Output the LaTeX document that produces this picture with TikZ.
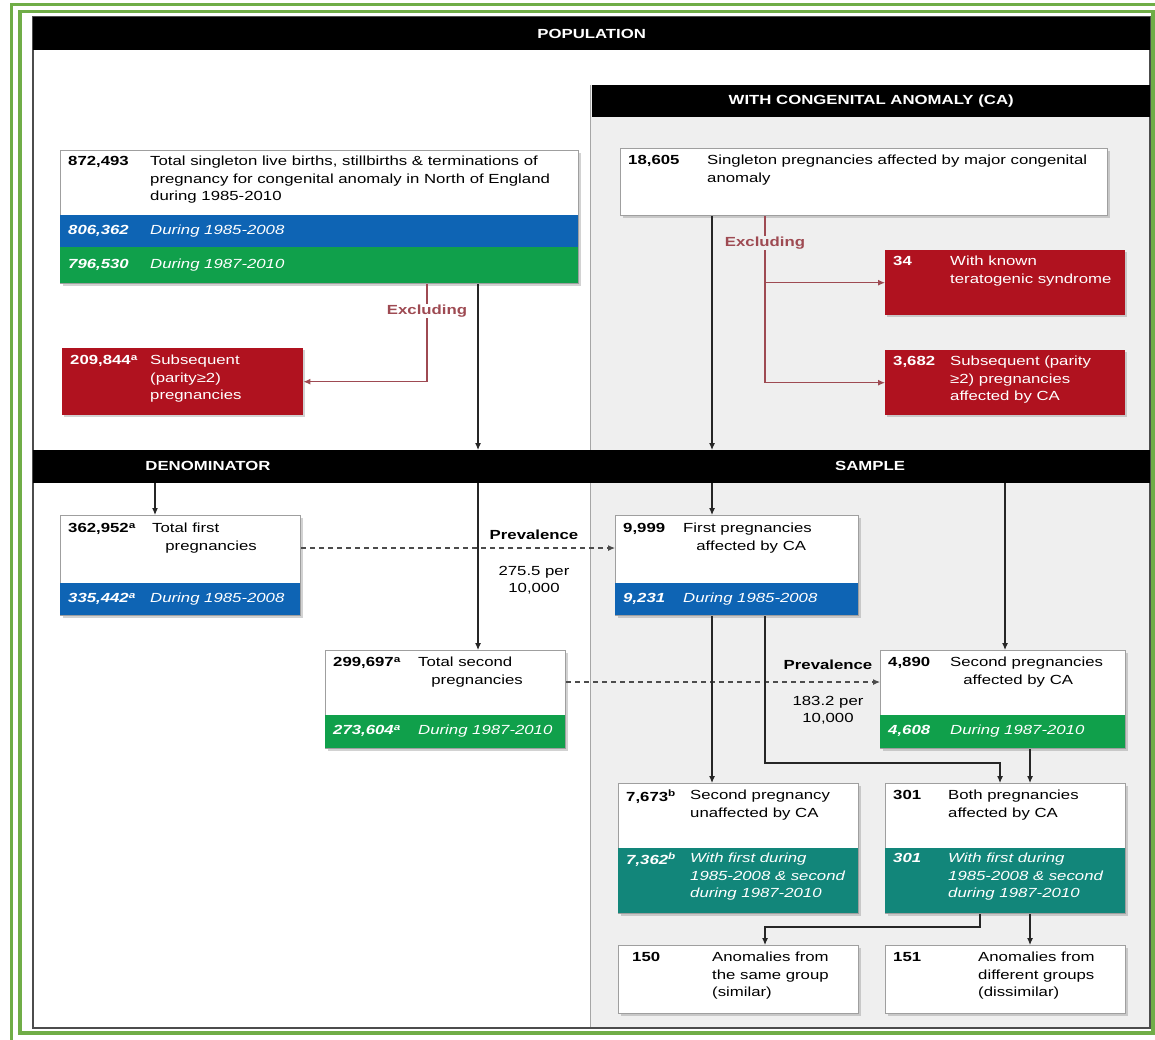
\documentclass[tikz,border=0pt]{standalone}
\usepackage{fontspec}
\setmainfont{Liberation Sans}[FakeStretch=1.27]
\usepackage{tikz}
\usetikzlibrary{shadows, arrows.meta}

\definecolor{popblue}{HTML}{0E64B4}
\definecolor{popgreen}{HTML}{10A04B}
\definecolor{exred}{HTML}{B0121F}
\definecolor{exline}{HTML}{9E4A52}
\definecolor{teal2}{HTML}{12867A}
\definecolor{panel}{HTML}{EFEFEF}
\definecolor{framegreen}{HTML}{70AD47}

\begin{document}
\fontsize{13.2}{17.5}\selectfont
\begin{tikzpicture}[x=1pt, y=-1pt,
    arr/.style={-{Latex[length=7pt, width=6pt]}, line width=1.1pt, black!85},
    dasharr/.style={arr, dashed, dash pattern=on 5pt off 4pt, black!70},
    exarr/.style={-{Latex[length=7pt, width=6pt]}, line width=1.1pt, exline}
  ]
  \tikzset{
    bar/.style={fill=black, text=white, font=\bfseries, inner sep=0pt, anchor=north west},
    bartext/.style={text=white, font=\bfseries, inner sep=0pt},
    box/.style={draw=gray!75, line width=1pt, fill=white, inner sep=0pt, anchor=north west,
      drop shadow={shadow xshift=2pt, shadow yshift=-2pt, opacity=.35}},
    exbox/.style={fill=exred, inner sep=0pt, anchor=north west,
      drop shadow={shadow xshift=2pt, shadow yshift=-2pt, opacity=.35}},
    strip/.style={inner sep=0pt, anchor=north west},
    num/.style={anchor=north west, inner sep=0pt, font=\bfseries},
    txt/.style={anchor=north west, inner sep=0pt, align=left},
    snum/.style={anchor=west, inner sep=0pt, text=white, font=\bfseries\itshape},
    stxt/.style={anchor=west, inner sep=0pt, text=white, font=\itshape},
    mnum/.style={num, text=white, font=\bfseries\itshape},
    mtxt/.style={txt, text=white, font=\itshape},
    wnum/.style={num, text=white},
    wtxt/.style={txt, text=white},
    exlab/.style={text=exline, font=\bfseries, inner sep=1pt},
    prev/.style={font=\bfseries, inner sep=0pt},
    rate/.style={align=center, inner sep=0pt}
  }
  \useasboundingbox (0,0) rectangle (1155,1039);
  \fill[white] (0,0) rectangle (1155,1039);

  % frames and panels
  \draw[framegreen, line width=3.5pt] (11.5,4.5) rectangle (1170,1050);
  \draw[framegreen, line width=3.5pt] (20,11.5) rectangle (1153,1033);
  \fill[panel] (590,85) rectangle (1150,1028);
  \draw[gray!70, line width=1pt] (590,85) -- (590,1028);
  \draw[gray!60!black, line width=1.5pt] (33,17) rectangle (1150,1028);

  % bars
  \node[bar, minimum width=1117pt, minimum height=33pt] (popbar) at (33,17) {POPULATION};
  \node[bar, minimum width=558pt, minimum height=32pt] (cabar) at (592,85) {WITH CONGENITAL ANOMALY (CA)};
  \node[bar, minimum width=1117pt, minimum height=33pt] (denbar) at (33,450) {};
  \node[bartext] (denlab) at (208,466) {DENOMINATOR};
  \node[bartext] (samlab) at (870,466) {SAMPLE};

  % population
  \node[box, minimum width=518pt, minimum height=133pt] (tot) at (60,150) {};
  \node[strip, fill=popblue, minimum width=518pt, minimum height=32pt] (totb) at (60,215) {};
  \node[strip, fill=popgreen, minimum width=518pt, minimum height=36pt] (totg) at (60,247) {};
  \node[num] (totn) at (68,156) {872,493};
  \node[txt] (tott) at (150,156) {Total singleton live births, stillbirths \& terminations of\\pregnancy for congenital anomaly in North of England\\during 1985-2010};
  \node[snum] (totbn) at (68,231) {806,362};
  \node[stxt] (totbt) at (150,231) {During 1985-2008};
  \node[snum] (totgn) at (68,265) {796,530};
  \node[stxt] (totgt) at (150,265) {During 1987-2010};

  \node[box, minimum width=487pt, minimum height=67pt] (ca) at (620,148) {};
  \node[num] (can) at (628,155) {18,605};
  \node[txt] (cat) at (707,155) {Singleton pregnancies affected by major congenital\\anomaly};

  % excluded
  \node[exbox, minimum width=241pt, minimum height=67pt] (ex3) at (62,348) {};
  \node[wnum] (ex3n) at (70,355) {209,844\textsuperscript{a}};
  \node[wtxt] (ex3t) at (150,355) {Subsequent\\(parity≥2)\\pregnancies};
  \node[exbox, minimum width=240pt, minimum height=65pt] (ex1) at (885,250) {};
  \node[wnum] (ex1n) at (893,256) {34};
  \node[wtxt] (ex1t) at (950,256) {With known\\teratogenic syndrome};
  \node[exbox, minimum width=240pt, minimum height=65pt] (ex2) at (885,350) {};
  \node[wnum] (ex2n) at (893,356) {3,682};
  \node[wtxt] (ex2t) at (950,356) {Subsequent (parity\\≥2) pregnancies\\affected by CA};

  % denominator
  \node[box, minimum width=240pt, minimum height=100pt] (d1) at (60,515) {};
  \node[strip, fill=popblue, minimum width=240pt, minimum height=32pt] (d1b) at (60,583) {};
  \node[num] (d1n) at (68,523) {362,952\textsuperscript{a}};
  \node[txt] (d1t) at (152,523) {Total first\\\hspace*{1em}pregnancies};
  \node[snum] (d1bn) at (68,599) {335,442\textsuperscript{a}};
  \node[stxt] (d1bt) at (150,599) {During 1985-2008};

  \node[box, minimum width=240pt, minimum height=98pt] (d2) at (325,650) {};
  \node[strip, fill=popgreen, minimum width=240pt, minimum height=33pt] (d2g) at (325,715) {};
  \node[num] (d2n) at (333,657) {299,697\textsuperscript{a}};
  \node[txt] (d2t) at (418,657) {Total second\\\hspace*{1em}pregnancies};
  \node[snum] (d2gn) at (333,731) {273,604\textsuperscript{a}};
  \node[stxt] (d2gt) at (418,731) {During 1987-2010};

  % sample
  \node[box, minimum width=243pt, minimum height=100pt] (s1) at (615,515) {};
  \node[strip, fill=popblue, minimum width=243pt, minimum height=32pt] (s1b) at (615,583) {};
  \node[num] (s1n) at (623,523) {9,999};
  \node[txt] (s1t) at (683,523) {First pregnancies\\\hspace*{1em}affected by CA};
  \node[snum] (s1bn) at (623,599) {9,231};
  \node[stxt] (s1bt) at (683,599) {During 1985-2008};

  \node[box, minimum width=245pt, minimum height=98pt] (s2) at (880,650) {};
  \node[strip, fill=popgreen, minimum width=245pt, minimum height=33pt] (s2g) at (880,715) {};
  \node[num] (s2n) at (888,657) {4,890};
  \node[txt] (s2t) at (950,657) {Second pregnancies\\\hspace*{1em}affected by CA};
  \node[snum] (s2gn) at (888,731) {4,608};
  \node[stxt] (s2gt) at (950,731) {During 1987-2010};

  \node[box, minimum width=240pt, minimum height=130pt] (s3) at (618,783) {};
  \node[strip, fill=teal2, minimum width=240pt, minimum height=65pt] (s3t2) at (618,848) {};
  \node[num] (s3n) at (626,790) {7,673\textsuperscript{b}};
  \node[txt] (s3t) at (690,790) {Second pregnancy\\unaffected by CA};
  \node[mnum] (s3mn) at (626,853) {7,362\textsuperscript{b}};
  \node[mtxt] (s3mt) at (690,853) {With first during\\1985-2008 \& second\\during 1987-2010};

  \node[box, minimum width=240pt, minimum height=130pt] (s4) at (885,783) {};
  \node[strip, fill=teal2, minimum width=240pt, minimum height=65pt] (s4t2) at (885,848) {};
  \node[num] (s4n) at (893,790) {301};
  \node[txt] (s4t) at (948,790) {Both pregnancies\\affected by CA};
  \node[mnum] (s4mn) at (893,853) {301};
  \node[mtxt] (s4mt) at (948,853) {With first during\\1985-2008 \& second\\during 1987-2010};

  \node[box, minimum width=240pt, minimum height=68pt] (s5) at (618,945) {};
  \node[num] (s5n) at (632,952) {150};
  \node[txt] (s5t) at (712,952) {Anomalies from\\the same group\\(similar)};
  \node[box, minimum width=240pt, minimum height=68pt] (s6) at (885,945) {};
  \node[num] (s6n) at (893,952) {151};
  \node[txt] (s6t) at (978,952) {Anomalies from\\different groups\\(dissimilar)};

  % connector columns and rows
  \coordinate (xa) at (478,0);
  \coordinate (xb) at (712,0);
  \coordinate (xc) at (765,0);
  \coordinate (xd) at (1005,0);
  \coordinate (xe) at (1030,0);
  \coordinate (xf) at (427,0);
  \coordinate (xg) at (155,0);
  \coordinate (xh) at (980,0);
  \coordinate (xi) at (1000,0);
  \coordinate (py1) at (0,548);
  \coordinate (py2) at (0,682);
  \coordinate (r1) at (0,763);
  \coordinate (r2) at (0,927);

  \draw[arr] (tot.south -| xa) -- (denbar.north -| xa);
  \draw[arr] (denbar.south -| xa) -- (d2.north -| xa);
  \draw[arr] (ca.south -| xb) -- (denbar.north -| xb);
  \draw[arr] (denbar.south -| xg) -- (d1.north -| xg);
  \draw[arr] (denbar.south -| xb) -- (s1.north -| xb);
  \draw[arr] (denbar.south -| xd) -- (s2.north -| xd);
  \draw[dasharr] (d1.east |- py1) -- (s1.west |- py1);
  \draw[dasharr] (d2.east |- py2) -- (s2.west |- py2);
  \draw[arr] (s1.south -| xb) -- (s3.north -| xb);
  \draw[arr] (s1.south -| xc) |- (r1 -| xi) -- (s4.north -| xi);
  \draw[arr] (s2.south -| xe) -- (s4.north -| xe);
  \draw[arr] (s4.south -| xh) |- (r2 -| xc) -- (s5.north -| xc);
  \draw[arr] (s4.south -| xe) -- (s6.north -| xe);

  % excluding
  \draw[exarr] (tot.south -| xf) |- (ex3.east);
  \draw[exarr] (ca.south -| xc) |- (ex2.west);
  \draw[exarr] (xc |- ex1.west) -- (ex1.west);
  \node[exlab, fill=white] (exl) at (427,311) {Excluding};
  \node[exlab, fill=panel] (exr) at (765,243) {Excluding};

  % prevalence
  \node[prev] (pv1) at (534,535) {Prevalence};
  \node[rate] (rt1) at (534,580) {275.5 per\\10,000};
  \node[prev] (pv2) at (828,665) {Prevalence};
  \node[rate] (rt2) at (828,710) {183.2 per\\10,000};
\end{tikzpicture}
\end{document}
